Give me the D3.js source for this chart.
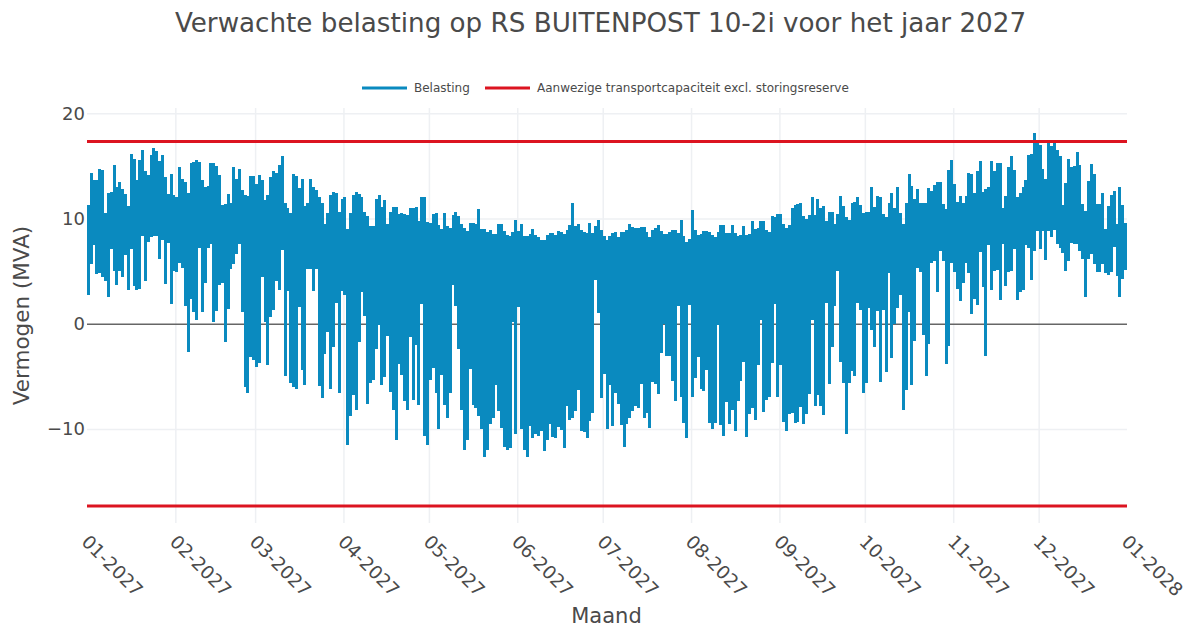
<!DOCTYPE html>
<html>
<head>
<meta charset="utf-8">
<title>Verwachte belasting</title>
<script src="https://cdn.jsdelivr.net/npm/d3@7"></script>
<style>
  html, body { margin: 0; background: #fff; }
  text { font-family: "DejaVu Sans", sans-serif; fill: #4a4a4a; }
</style>
</head>
<body>
<div id="chart"></div>
<script>
// daily maximum of the load in MVA, in day order
const dayHigh = [
  11.3,14.3,13.7,13.7,14.7,14.6,10.5,12.4,12.5,15.1,13,13.5,12.8,12.3,11.2,16.1,15.7,13.7,15.6,16.5,14.5,14.1,16,16.7,16.4,15.5,16,13.9,12.3,14.2,
  12.2,12,14.9,13.8,13.5,12.4,15.3,15.4,15.6,15.4,13.7,13,13.1,15.3,15.3,15,14.1,11.3,11.4,12.3,11.5,14.9,13.8,14.7,12.7,12.2,12.1,14,
  14,13.3,14.1,13.7,11.8,12.2,13.9,14.5,14.3,15.1,15.9,11.5,11,10.5,14.2,14,12.9,13.8,11.2,11.5,13.8,13,12.7,12,11.5,9.5,10.5,12.2,12.5,12.4,10.6,11.9,
  12,9,10.5,12.2,12.5,12.3,12,10.6,10.2,9.3,9.3,11.9,12.2,11.1,11.8,9.5,10.6,11.1,11.1,10.4,10.5,10.4,10.3,11,11,11.1,9.8,12,12,9.7,
  9.6,10.4,10.5,9.4,9,10.5,9.3,9.1,10.3,10.6,10.2,9.5,9.1,8.8,9.6,9.6,9.5,10.9,9,9,8.7,8.9,8.5,8.5,9.5,9.5,8.8,8.4,8.3,8.7,9.9,
  8.8,9.5,8.3,8.3,8.5,9,8.4,8.2,8,8,8.4,8.6,8.6,8.4,8.8,8.7,8.5,8.9,9.4,11.5,9.3,9.5,8.9,8.7,8.6,9.6,8.6,9.3,9.9,8.9,
  8.3,8,8.3,8.6,8.7,8.2,8.7,8.7,8.9,9.5,9.2,9.1,9.1,9.2,9.2,8.7,8.2,8.9,9.1,9.4,8.8,8.5,8.5,8.7,8.9,8.9,8.6,9.9,8.3,7.8,8.1,
  10.8,8.9,8.4,8.5,8.8,8.8,8.7,8.4,8.2,8.7,9.4,9.4,8.6,8.6,9.4,8.6,8.3,8.4,9.3,8.4,8.5,9.8,9,9.1,9.8,9.8,8.9,8.7,10.2,10.1,10.4,
  10.4,9.5,9.1,9.4,11,11.3,11.4,11.5,10.2,10,10.3,12,10.3,11.9,11,11.2,9.8,10.6,10.6,9.5,10.4,12.1,11.2,10.1,9.9,11.5,11.6,12,11.3,10.5,
  10.6,10.6,13,11.1,12.1,12,10.4,10.1,11.5,12.4,11,13,10.5,9.5,11.5,14.2,13.1,11.9,12.8,11.5,11.5,11.5,12.9,12.6,13.2,13.5,13.5,11.4,10.9,14.6,15.6,
  13.3,11.6,12.1,11.5,12.1,14.3,14.2,12.4,14.5,15.5,12.5,12.8,13,15.5,14.5,15.3,15.3,11,12.1,14.9,15.9,14.6,12,12.4,13,13.7,16,16.1,18.1,17.2,
  17,14.7,13.8,17.3,16.9,17.3,16.5,15.9,11.3,13.4,15.7,14.9,15,16.3,15.1,11.4,10.7,13.6,15.2,14.2,11.4,11.4,12.4,9,11.2,12.2,12.6,9.5,13,11.3,9.6
];
// daily minimum, in day order
const dayLow = [
  2.7,5.7,7.5,4.7,4.8,4.4,4.1,2.5,7.1,5,3.7,5,4.4,6.5,3.2,7.1,3.6,3.2,3.3,8.3,4.1,7.8,8.2,8.3,8.3,6.2,8,3.8,7.7,1.9,
  5,4.9,5.8,5.3,1.7,-2.7,2.4,1.1,.4,7.2,1.1,3.9,7.2,7.6,.2,1.2,3.7,3.9,-1.7,1.4,5.2,5.7,6.6,7.6,1.1,-6,-6.6,-3.2,
  -3.4,-4.1,-3.7,4.4,.2,-3.9,.6,1.3,4.1,3.2,7,-5,3.1,-5.6,-6,-6.2,1.6,-4.4,-5.8,5.2,5.2,3.1,5.2,-5.9,-7.1,-2.9,-.8,-6.2,-2.2,2,-6.6,
  3.1,2.7,-11.5,-8.8,-6.8,-8.2,-1.7,3,.7,-7.6,-5.6,-5.3,-2.4,-.1,-5.8,-5.1,-1.2,-6.5,-8.2,-11,-3.8,-4.9,-7.3,-8.2,-1.3,-7.2,-2,-7.7,1.9,-10.7,
  -11.5,-5.3,-4.2,-6.6,-10,-4.9,-7.7,-9,-6.6,3.7,1.7,-2.4,-8.2,-12,-11,-4.3,-7.7,-8,-8.8,-10,-12.7,-12,-9.5,-9,-5.8,-8.3,-9.9,-11.7,-12,-11.8,.2,
  -10.5,1.6,-10,-12,-12.7,-9.7,-10.9,-10.5,-10.7,-10.2,-12.1,-11,-9.5,-10.8,-10.9,-9.8,-10.1,-11.8,-7.8,-9.1,-9,-8.3,-6.3,-10.2,-10.3,-10.9,-9.2,-8.5,4.2,1,
  -7.1,-4.8,-10,-5.8,-9.7,-6.6,-7.6,-9.6,-11.7,-9.5,-9,-8.3,-7.8,-8,-5.7,-9,-8.5,-9.9,-5.5,-5.7,-6.7,-2.8,0,-3.1,-3.1,-5.4,-7.3,1.7,-7,-9.4,-10.9,
  1.8,-7,-5.2,-3.2,-6.2,-6.4,-4.4,-9.4,-10,-9.4,-.1,-9.6,-10.7,-7.4,-9.5,-8.2,-10.2,-7.3,-5.4,-3.6,-10.8,-8.6,-8,-9.1,-3.9,.4,-8.4,-7.2,-7,-3.7,1.9,
  -7,-3.9,-9.3,-10.2,-8.6,-8.5,-9.4,-9.3,-7.9,-9.5,-8.6,-6.7,.4,-7.8,-6.8,-7.8,-8.7,2,-5.7,-2.2,1.7,5,-3.6,-5.6,-10.5,-5.6,-4.5,-5,2,1.3,
  -6.6,-5.6,1.5,-.6,-2.2,1.2,-5.5,1.3,-4.6,4.8,-3.3,0,1.5,2.7,-8.2,-6.3,1.1,-5.8,-1.6,5.3,4.9,-1.1,-5,-1.9,5.8,6,3,6.9,6,-3.8,-2.1,5.8,
  4.9,3.3,2.2,3.9,5.8,4.8,.9,2.4,1.8,6.8,3.5,-3.1,7.5,3.2,5,5.1,2.3,7.6,3.6,4.9,5,7.1,2.3,3,3.2,7.5,7.2,4.2,6.9,8.8,
  7.1,8.8,6.1,8.8,8.2,8.9,7.6,7.2,6.7,5,6,7.7,7.6,7.6,6.9,6.2,2.5,6.2,6.6,5.7,4.9,4.9,5.7,4.8,4.6,4.9,7.3,4.5,2.5,4.3,5.1
];
const capacity = [17.32, -17.32];
const yTicks = [-10, 0, 10, 20];
const seriesNames = ['Belasting', 'Aanwezige transportcapaciteit excl. storingsreserve'];
const seriesColors = ['#0a8abf', '#dc1420'];

const width = 1188, height = 628;
const plotLeft = 87, plotRight = 1127, plotTop = 108, plotBottom = 523;

const svg = d3.select('#chart').append('svg')
  .attr('width', width)
  .attr('height', height)
  .style('display', 'block');

const start = new Date(2027, 0, 1), end = new Date(2028, 0, 1);
const x = d3.scaleTime().domain([start, end]).range([plotLeft, plotRight]);
const y = d3.scaleLinear().domain([-18.93, 20.5]).range([plotBottom, plotTop]);
const days = d3.timeDay.range(start, end);
const monthTicks = d3.timeMonth.range(start, d3.timeDay.offset(end, 1));

// gridlines come from the axes themselves
const xAxis = svg.append('g')
  .attr('transform', `translate(0,${plotBottom})`)
  .call(d3.axisBottom(x).tickValues(monthTicks).tickFormat(d3.timeFormat('%m-%Y')).tickSize(plotTop - plotBottom).tickPadding(0));
xAxis.select('.domain').remove();
xAxis.selectAll('.tick line')
  .attr('stroke', '#eef0f3')
  .attr('stroke-width', 1.5)
  .attr('opacity', (d, i) => (i === 0 || i === 12) ? 0 : 1);
xAxis.selectAll('.tick text')
  .attr('font-size', 18.5)
  .attr('text-anchor', 'start')
  .attr('dy', 0)
  .attr('y', 0)
  .attr('transform', 'translate(-7,20) rotate(45)');

const yAxis = svg.append('g')
  .attr('transform', `translate(${plotLeft},0)`)
  .call(d3.axisLeft(y).tickValues(yTicks).tickSize(plotLeft - plotRight).tickPadding(2).tickFormat(d => d < 0 ? '\u2212' + Math.abs(d) : d));
yAxis.select('.domain').remove();
yAxis.selectAll('.tick line')
  .attr('stroke', d => d === 0 ? '#666' : '#eef0f3')
  .attr('stroke-width', 1.5);
yAxis.selectAll('.tick text').attr('font-size', 18);

// load: one stem from low to high per day
svg.append('g')
  .attr('shape-rendering', 'crispEdges')
  .selectAll('line')
  .data(days)
  .enter()
  .append('line')
  .attr('x1', d => x(d3.timeHour.offset(d, 12)))
  .attr('x2', d => x(d3.timeHour.offset(d, 12)))
  .attr('y1', (d, i) => y(dayLow[i]))
  .attr('y2', (d, i) => y(dayHigh[i]))
  .attr('stroke', seriesColors[0])
  .attr('stroke-width', 3);

svg.append('g').selectAll('line')
  .data(capacity)
  .enter()
  .append('line')
  .attr('x1', x(start))
  .attr('x2', x(end))
  .attr('y1', d => y(d))
  .attr('y2', d => y(d))
  .attr('stroke', seriesColors[1])
  .attr('stroke-width', 3);

svg.append('text')
  .attr('x', 600.5)
  .attr('y', 32)
  .attr('text-anchor', 'middle')
  .attr('font-size', 26.2)
  .text('Verwachte belasting op RS BUITENPOST 10-2i voor het jaar 2027');

svg.append('text')
  .attr('x', 606.5)
  .attr('y', 623)
  .attr('text-anchor', 'middle')
  .attr('font-size', 21)
  .text('Maand');

svg.append('text')
  .attr('transform', 'translate(29,315.5) rotate(-90)')
  .attr('text-anchor', 'middle')
  .attr('font-size', 21.5)
  .text('Vermogen (MVA)');

// legend
const legendX = [362, 485];
const legend = svg.append('g').selectAll('g')
  .data(seriesNames)
  .enter()
  .append('g')
  .attr('transform', (d, i) => `translate(${legendX[i]},88)`);
legend.append('line')
  .attr('x2', 45)
  .attr('stroke', (d, i) => seriesColors[i])
  .attr('stroke-width', 3);
legend.append('text')
  .attr('x', 52)
  .attr('y', 4)
  .attr('font-size', 12)
  .text(d => d);
</script>
</body>
</html>
